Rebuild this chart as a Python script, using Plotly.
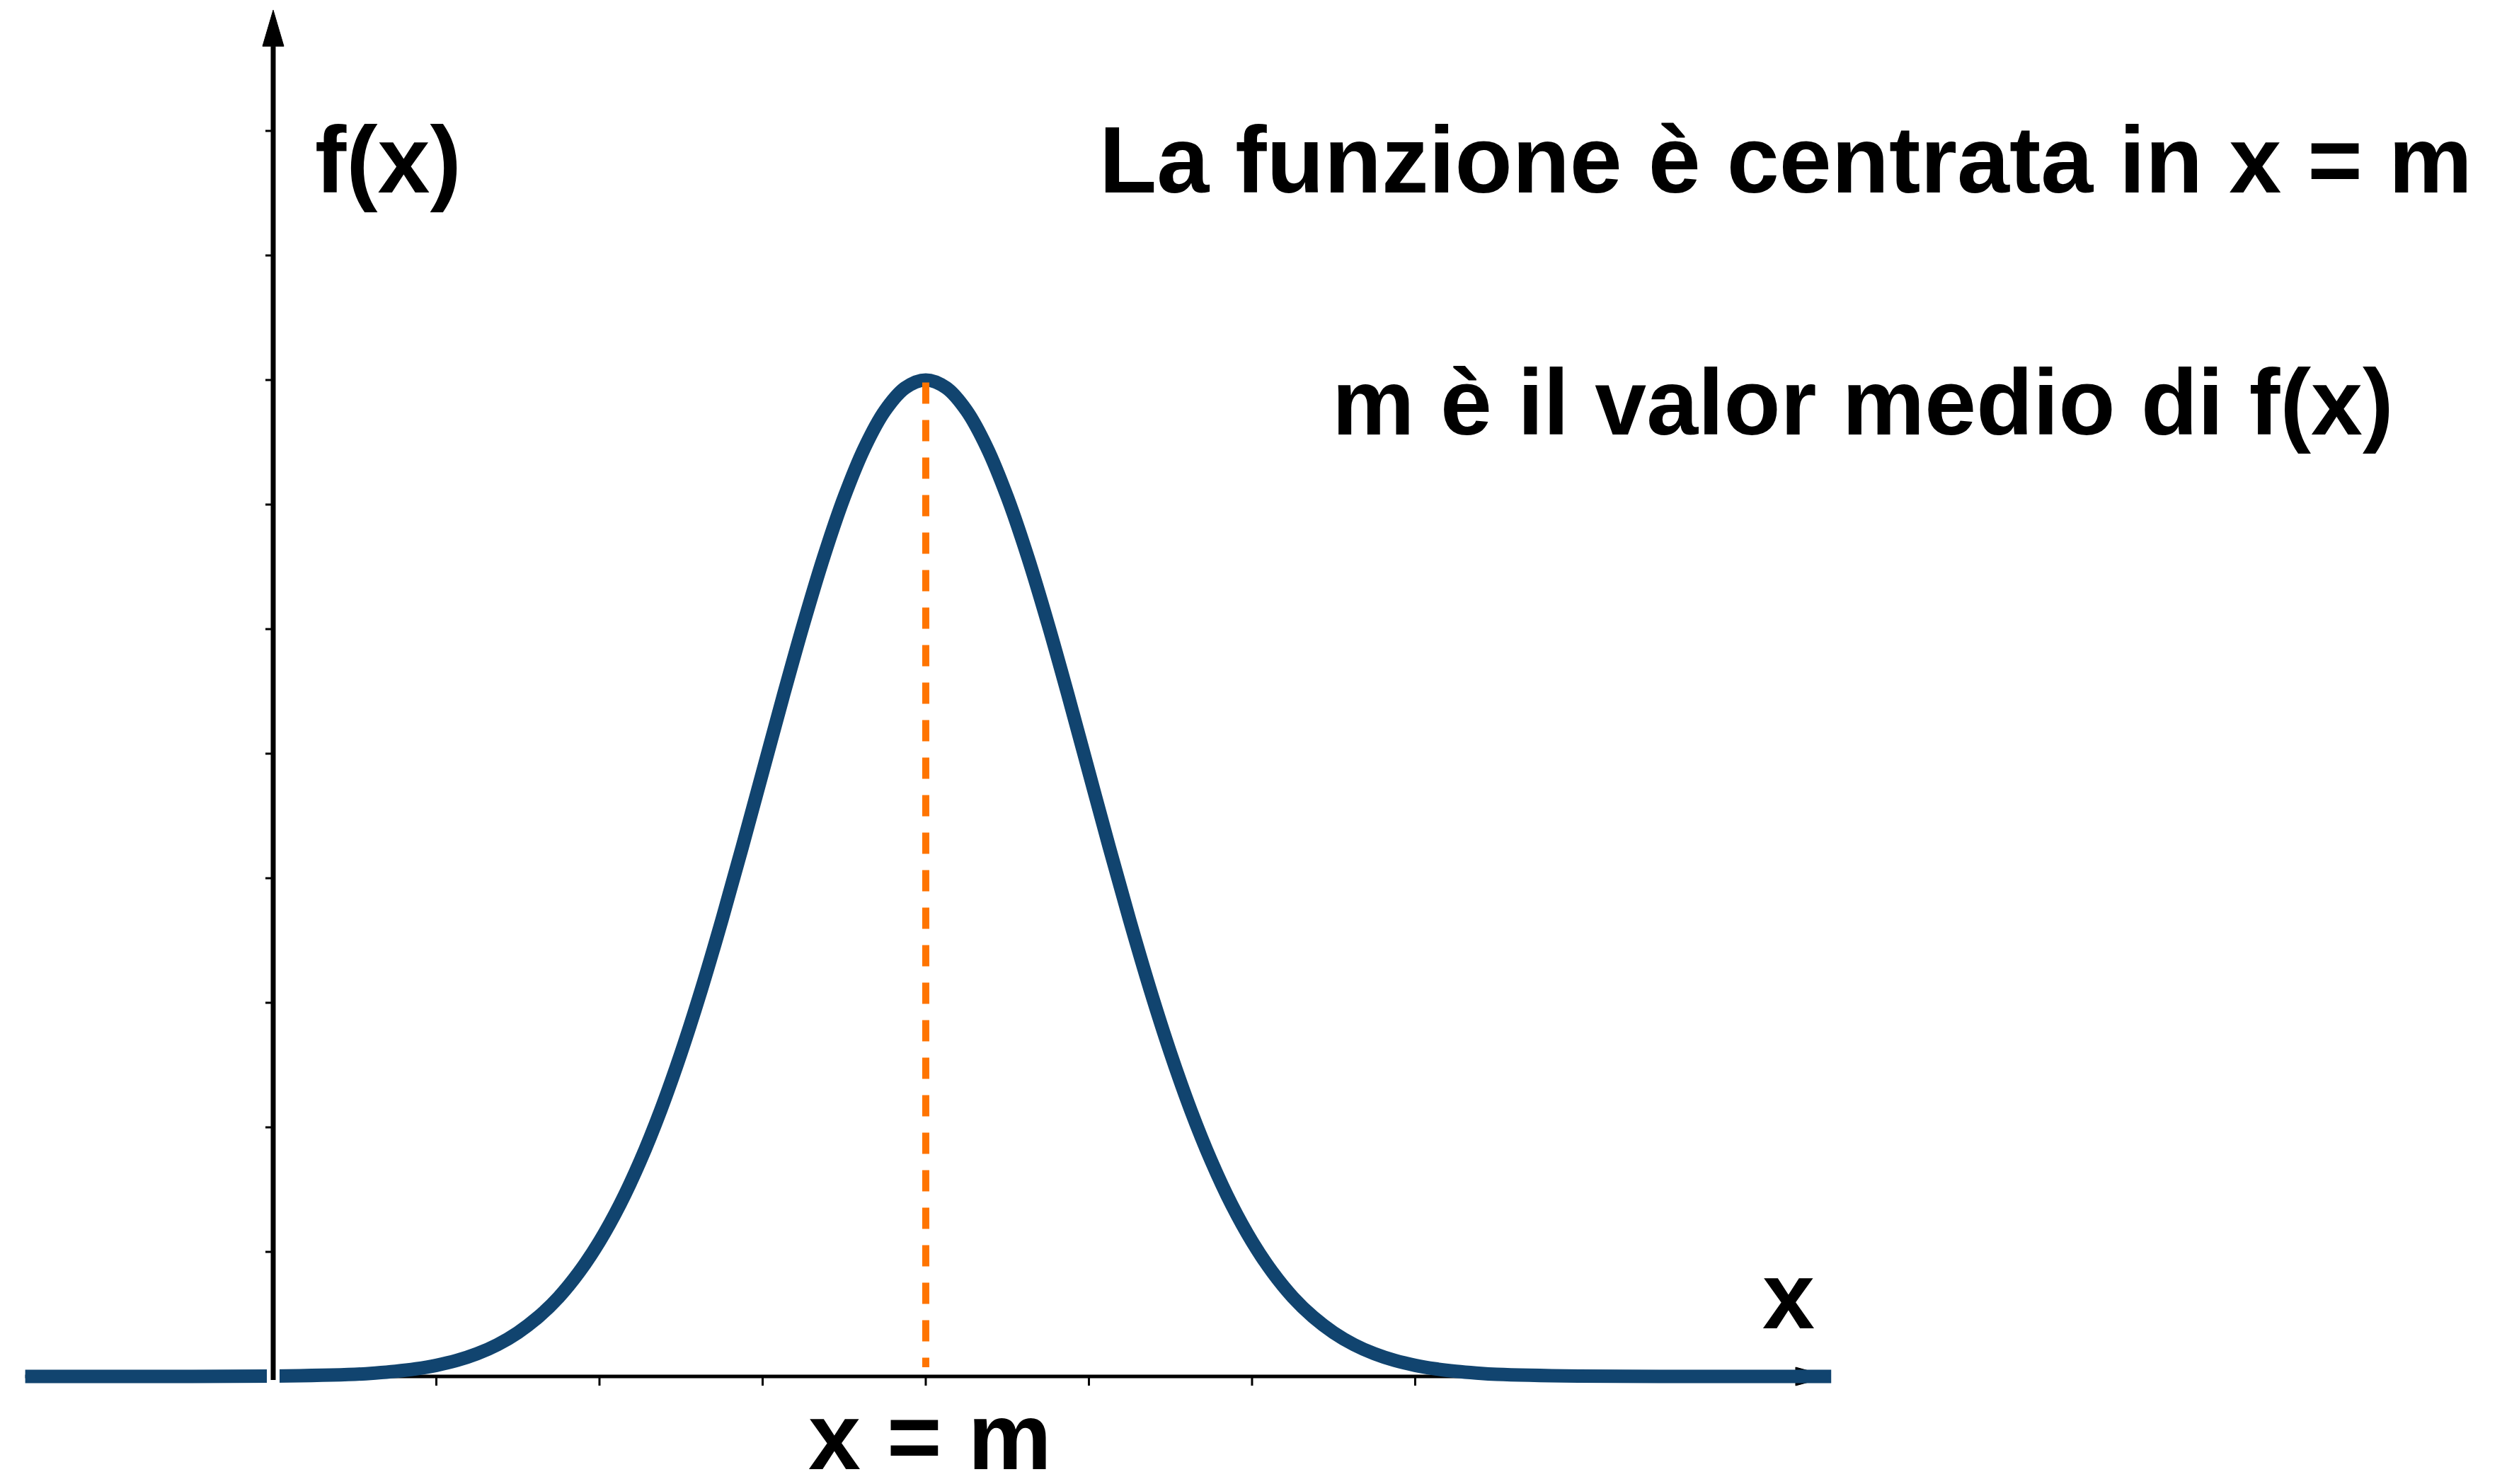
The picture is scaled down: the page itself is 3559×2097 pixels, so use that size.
import plotly.graph_objects as go

# Canvas and axis scaling (data units mapped onto the full canvas)
W, H = 3559, 2097
X_RANGE = [-1.6746, 13.766]
Y_RANGE = [-0.8636, 11.051]
PX_X = (X_RANGE[1] - X_RANGE[0]) / W   # data units per pixel, horizontal
PX_Y = (Y_RANGE[1] - Y_RANGE[0]) / H   # data units per pixel, vertical

# Bell-shaped density f(x), centred on the mean m
curve_x = [-1.52, -1.0, -0.5, 0.0,
           0.5, 0.625, 0.75, 0.875, 1.0, 1.125, 1.25, 1.375,
           1.5, 1.625, 1.75, 1.875, 2.0, 2.125, 2.25, 2.375,
           2.5, 2.625, 2.75, 2.875, 3.0, 3.125, 3.25, 3.375,
           3.5, 3.625, 3.75, 3.875, 4.0, 4.125, 4.25, 4.375,
           4.5, 4.625, 4.75, 4.875, 5.0, 5.125, 5.25, 5.375,
           5.5, 5.625, 5.75, 5.875, 6.0, 6.125, 6.25, 6.375,
           6.5, 6.625, 6.75, 6.875, 7.0, 7.125, 7.25, 7.375, 7.5,
           8.0, 8.5, 9.0, 9.55]
curve_y = [0.0, 0.0, 0.0, 0.003,
           0.017, 0.027, 0.041, 0.061, 0.089, 0.128, 0.182, 0.255,
           0.352, 0.477, 0.636, 0.837, 1.083, 1.379, 1.730, 2.136,
           2.597, 3.108, 3.663, 4.249, 4.852, 5.456, 6.039, 6.581,
           7.060, 7.457, 7.754, 7.938, 8.000, 7.938, 7.754, 7.457,
           7.060, 6.581, 6.039, 5.456, 4.852, 4.249, 3.663, 3.108,
           2.597, 2.136, 1.730, 1.379, 1.083, 0.837, 0.636, 0.477,
           0.352, 0.255, 0.182, 0.128, 0.089, 0.061, 0.041, 0.027, 0.017,
           0.003, 0.0, 0.0, 0.0]

MEAN = 4.0
PEAK = 8.0

x_ticks = [1, 2, 3, 4, 5, 6, 7]
y_ticks = [1, 2, 3, 4, 5, 6, 7, 8, 9, 10]

BLUE = "#11446f"
ORANGE = "#ff7400"
BLACK = "#000000"

fig = go.Figure()

# Gaussian curve
fig.add_trace(go.Scatter(
    x=curve_x, y=curve_y, mode="lines",
    line=dict(color=BLUE, width=19, shape="spline", smoothing=1.0, simplify=False),
    hoverinfo="skip",
))

# Dashed vertical at the mean, from the peak down to the axis
fig.add_trace(go.Scatter(
    x=[MEAN, MEAN], y=[PEAK - 0.02, 0.074], mode="lines",
    line=dict(color=ORANGE, width=10, dash="30px,23px"),
    hoverinfo="skip",
))

shapes = []

# x axis (drawn beneath the curve) with arrowhead and ticks
x_arrow_base = 9.332
x_arrow_tip = 9.54
shapes.append(dict(type="line", layer="below", xref="x", yref="y",
                   x0=curve_x[0], x1=x_arrow_base, y0=0, y1=0,
                   line=dict(color=BLACK, width=5)))
shapes.append(dict(type="path", layer="below", xref="x", yref="y",
                   path=f"M {x_arrow_base},{13 * PX_Y} L {x_arrow_tip},0 L {x_arrow_base},{-13 * PX_Y} Z",
                   fillcolor=BLACK, line=dict(color=BLACK, width=1)))
for t in x_ticks:
    shapes.append(dict(type="line", layer="below", xref="x", yref="y",
                       x0=t, x1=t, y0=0, y1=-13 * PX_Y,
                       line=dict(color=BLACK, width=3)))

# y axis (drawn over the curve, with a white gap where it crosses it)
y_arrow_base = 10.68
y_arrow_tip = 10.97
shapes.append(dict(type="line", layer="above", xref="x", yref="y",
                   x0=0, x1=0, y0=-11 * PX_Y, y1=11 * PX_Y,
                   line=dict(color="white", width=18)))
shapes.append(dict(type="line", layer="above", xref="x", yref="y",
                   x0=0, x1=0, y0=-5 * PX_Y, y1=y_arrow_base,
                   line=dict(color=BLACK, width=7)))
shapes.append(dict(type="path", layer="above", xref="x", yref="y",
                   path=f"M {-15 * PX_X},{y_arrow_base} L 0,{y_arrow_tip} L {15 * PX_X},{y_arrow_base} Z",
                   fillcolor=BLACK, line=dict(color=BLACK, width=1)))
for t in y_ticks:
    shapes.append(dict(type="line", layer="above", xref="x", yref="y",
                       x0=0, x1=-11 * PX_X, y0=t, y1=t,
                       line=dict(color=BLACK, width=3)))

FONT = dict(family="Liberation Sans, Arial, Helvetica, sans-serif", size=133,
            color=BLACK, weight="bold")


def label(text, px, py, xanchor, size=133):
    font = dict(FONT, size=size)
    return dict(text=text, xref="paper", yref="paper",
                x=px / W, y=1 - py / H, xanchor=xanchor, yanchor="middle",
                showarrow=False, font=font, borderpad=0)


annotations = [
    label("f(x)", 444, 226, "left"),
    label("La funzione è centrata in x = m", 1552, 226, "left"),
    label("m è il valor medio di f(x)", 1881, 568, "left", size=131),
    label("x", 2527, 1831, "center"),
    label("x = m", 1314, 2030, "center"),
]

fig.update_layout(
    width=W, height=H,
    margin=dict(l=0, r=0, t=0, b=0),
    paper_bgcolor="white", plot_bgcolor="white",
    showlegend=False,
    xaxis=dict(range=X_RANGE, visible=False, fixedrange=True),
    yaxis=dict(range=Y_RANGE, visible=False, fixedrange=True),
    shapes=shapes,
    annotations=annotations,
)

fig.write_html("out.html")
